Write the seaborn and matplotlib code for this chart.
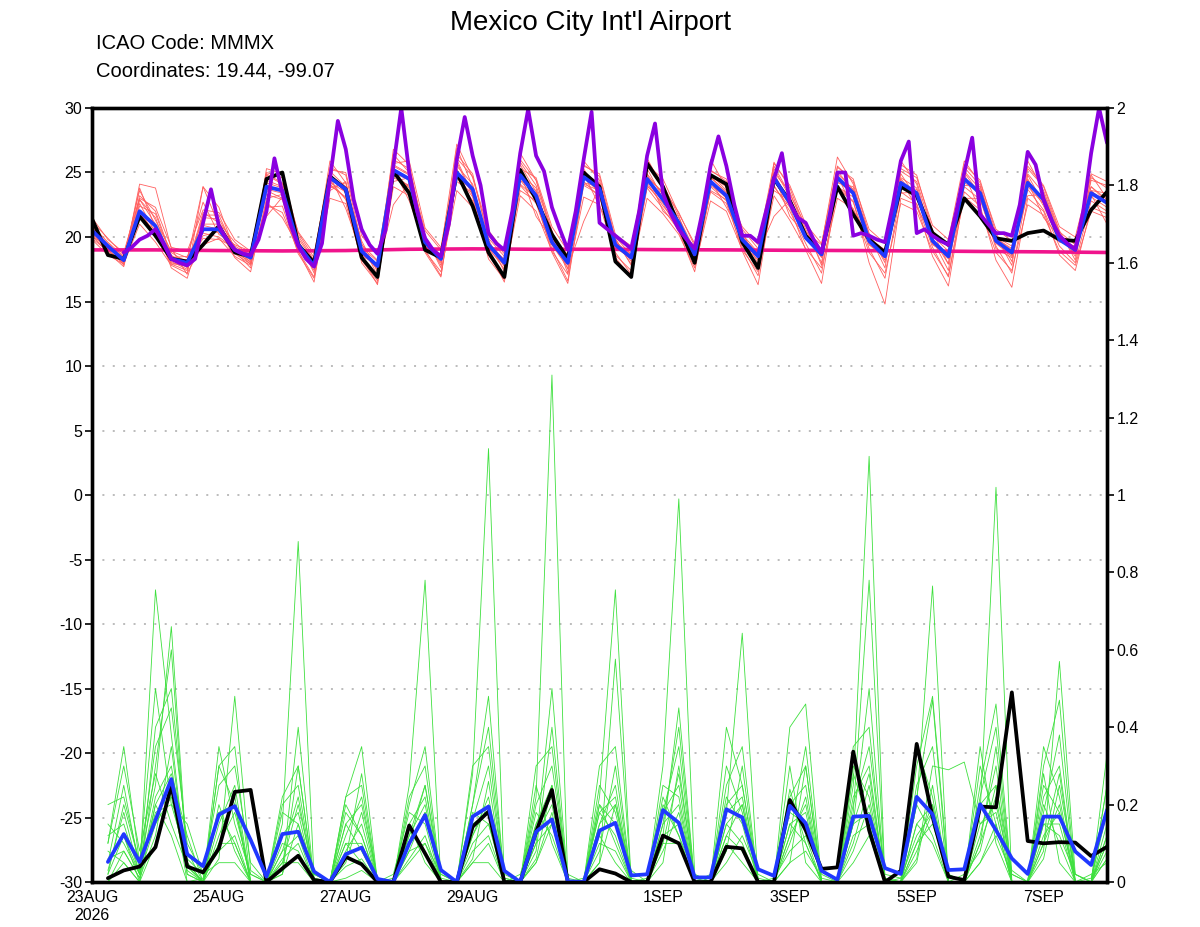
import numpy as np
import pandas as pd
import matplotlib
matplotlib.use('Agg')
import matplotlib.pyplot as plt
import matplotlib.dates as mdates
import seaborn as sns

sns.set_theme(style='white')
plt.rcParams['font.family'] = ['Liberation Sans', 'DejaVu Sans']
plt.rcParams['text.color'] = 'black'

# 6-hourly forecast steps, 23AUG 00z .. 8SEP 00z
times = pd.date_range('2026-08-23 00:00', periods=65, freq='6h')
times_3h = pd.date_range('2026-08-23 12:00', periods=125, freq='3h')
days = pd.date_range('2026-08-23', periods=17, freq='D')

tick_dates = ['2026-08-23', '2026-08-25', '2026-08-27', '2026-08-29',
              '2026-09-01', '2026-09-03', '2026-09-05', '2026-09-07']
tick_labels = ['23AUG\n2026', '25AUG', '27AUG', '29AUG', '1SEP', '3SEP', '5SEP', '7SEP']

# temperature (left axis, C)
temp_ctrl = [21.4, 18.6, 18.3, 21.6, 20.1, 18.3, 18.1, 19.4, 20.85, 18.8, 18.5, 24.5, 25.0,
             19.4, 18.0, 24.7, 23.7, 18.4, 16.9, 25.1, 23.4, 19.0, 18.4, 25.0, 22.4, 18.8,
             16.9, 25.2, 22.9, 20.2, 18.3, 25.0, 23.9, 18.1, 16.9, 25.7, 23.9, 20.85, 18.0,
             24.8, 24.1, 19.6, 17.6, 24.5, 22.8, 20.1, 18.8, 23.9, 21.75, 19.8, 18.8, 23.9,
             23.2, 20.3, 19.4, 23.0, 21.6, 19.9, 19.7, 20.3, 20.5, 19.8, 19.7, 22.1, 23.5]
temp_mean = [20.5, 19.3, 18.2, 22.0, 20.85, 18.3, 18.0, 20.6, 20.6, 19.0, 18.4, 23.9, 23.6,
             19.4, 17.75, 24.6, 23.7, 18.9, 17.75, 25.2, 24.5, 19.6, 18.3, 25.0, 23.7, 19.4,
             18.0, 24.8, 23.2, 19.6, 18.0, 24.65, 23.75, 19.4, 18.4, 24.5, 22.9, 21.1, 18.65,
             24.3, 23.2, 19.8, 18.5, 24.6, 22.65, 19.95, 18.65, 24.6, 23.4, 19.7, 18.5, 24.2,
             23.4, 19.7, 18.5, 24.5, 23.4, 19.7, 18.8, 24.2, 22.9, 19.8, 19.0, 23.4, 22.65]
temp_det = [18.8, 19.2, 19.8, 20.1, 20.6, 19.5, 18.3, 18.0, 17.8, 18.3, 21.1, 23.7, 20.85,
            19.8, 19.0, 18.7, 18.6, 19.8, 22.0, 26.1, 23.4, 21.0, 19.3, 18.3, 17.7, 19.5,
            24.5, 29.0, 26.8, 22.9, 20.6, 19.4, 18.7, 20.5, 25.5, 30.0, 25.0, 22.0, 19.9,
            19.0, 18.5, 21.0, 26.0, 29.3, 26.3, 24.0, 20.3, 19.5, 19.0, 22.0, 26.5, 29.9,
            26.3, 25.1, 22.3, 20.6, 19.0, 22.0, 26.0, 29.7, 21.1, 20.6, 20.1, 19.6, 19.1,
            22.0, 26.3, 28.8, 23.4, 21.8, 20.6, 19.8, 19.1, 22.0, 25.5, 27.8, 25.5, 22.5,
            20.1, 20.1, 19.6, 22.0, 24.5, 26.5, 22.65, 21.5, 21.1, 19.8, 18.8, 21.5, 25.0,
            25.0, 20.1, 20.3, 20.1, 19.8, 19.6, 22.5, 25.9, 27.4, 20.3, 20.6, 20.1, 19.7,
            19.4, 22.0, 25.0, 27.7, 21.75, 21.0, 20.3, 20.3, 20.1, 22.5, 26.6, 25.6, 22.9,
            21.3, 20.1, 19.5, 19.05, 22.0, 26.5, 30.0, 27.3]
temp_clim = [19.0, 19.0, 18.95, 18.92, 18.95, 19.05, 19.08, 19.05, 19.05, 19.02, 19.0,
             18.97, 18.95, 18.92, 18.88, 18.85, 18.8]

temp_members = [
    [20.2, 19.0, 18.0, 23.2, 22.0, 18.6, 17.6, 21.5, 21.4, 19.2, 18.0, 25.0, 24.6, 19.8, 17.2, 25.4, 24.8, 19.5, 17.0, 26.0, 25.3, 20.1, 17.6, 26.4, 24.9, 19.8, 17.3, 25.8, 24.0, 20.3, 17.5, 25.6, 24.7, 19.9, 17.8, 25.9, 24.1, 21.6, 18.2, 25.2, 24.3, 20.4, 17.9, 25.8, 23.8, 20.6, 18.0, 25.4, 24.5, 20.2, 17.6, 25.1, 24.3, 20.4, 17.9, 25.6, 24.4, 20.3, 18.1, 25.3, 23.9, 20.5, 18.2, 24.6, 23.8],
    [19.8, 18.6, 17.9, 21.0, 19.6, 17.8, 17.2, 19.4, 19.9, 18.5, 17.8, 22.3, 22.4, 18.7, 16.8, 23.0, 22.6, 18.2, 16.6, 23.9, 23.2, 18.9, 17.3, 23.6, 22.3, 18.6, 16.9, 23.2, 22.0, 18.9, 17.1, 23.1, 22.5, 18.6, 17.4, 23.0, 21.8, 20.2, 17.6, 22.8, 22.0, 19.0, 17.3, 23.2, 21.3, 19.1, 17.6, 23.0, 22.2, 18.8, 17.2, 22.6, 22.0, 18.9, 17.0, 23.1, 22.1, 18.8, 17.4, 22.5, 21.7, 18.9, 17.8, 22.0, 21.5],
    [20.9, 19.6, 18.5, 23.6, 21.3, 18.9, 18.4, 22.7, 20.2, 19.4, 18.9, 24.8, 24.1, 20.1, 18.2, 25.9, 24.2, 19.2, 18.1, 26.4, 25.0, 20.5, 19.0, 27.2, 24.6, 20.1, 18.7, 26.0, 24.4, 20.2, 18.6, 25.3, 23.2, 19.0, 18.9, 26.1, 23.8, 21.9, 19.3, 25.1, 24.5, 20.6, 19.1, 25.0, 23.5, 20.4, 19.4, 26.2, 24.1, 19.9, 19.0, 25.6, 24.8, 20.5, 19.2, 24.0, 23.9, 20.0, 19.3, 25.9, 23.6, 20.4, 19.4, 24.8, 23.0],
    [20.0, 19.4, 17.8, 22.6, 20.3, 17.9, 17.4, 21.0, 21.0, 18.7, 17.9, 22.5, 21.9, 18.9, 16.9, 24.1, 23.0, 18.4, 16.3, 24.8, 23.8, 19.0, 17.0, 24.6, 22.8, 18.9, 16.5, 24.0, 22.6, 19.1, 16.6, 24.3, 23.1, 18.8, 17.1, 23.8, 22.2, 20.5, 17.8, 23.5, 22.6, 19.2, 17.0, 24.0, 22.0, 19.5, 17.2, 23.8, 22.7, 19.1, 16.8, 23.5, 22.6, 19.2, 16.9, 23.9, 22.9, 19.3, 17.2, 23.7, 22.1, 19.3, 18.0, 22.8, 22.0],
    [20.6, 19.1, 18.3, 22.4, 21.8, 18.5, 18.2, 23.9, 20.9, 19.3, 18.6, 21.6, 23.1, 19.6, 17.9, 24.2, 23.5, 18.8, 17.5, 22.5, 24.2, 19.3, 18.1, 25.8, 23.2, 19.0, 17.8, 23.6, 22.8, 19.4, 17.6, 21.2, 23.9, 19.6, 18.7, 24.9, 23.3, 21.5, 19.0, 24.7, 23.9, 20.2, 18.8, 21.6, 22.9, 20.1, 18.4, 25.1, 23.6, 20.0, 18.2, 24.6, 23.8, 19.6, 18.3, 23.0, 23.0, 19.5, 18.5, 24.8, 22.6, 19.9, 18.9, 23.9, 22.7],
    [21.2, 19.9, 18.6, 22.9, 21.0, 18.2, 17.8, 20.1, 20.4, 18.8, 18.1, 24.4, 23.9, 19.5, 17.4, 24.9, 23.4, 18.9, 17.6, 25.6, 24.9, 19.8, 18.5, 25.5, 24.1, 19.3, 18.3, 25.6, 23.5, 19.9, 18.4, 24.9, 24.2, 19.8, 18.1, 24.2, 22.4, 21.0, 18.9, 24.9, 23.6, 19.5, 18.2, 25.3, 23.1, 20.3, 18.9, 24.2, 23.9, 19.4, 18.7, 24.9, 23.0, 19.9, 17.9, 25.1, 23.7, 19.9, 19.0, 23.2, 23.3, 20.1, 19.5, 23.9, 22.9],
    [20.3, 19.2, 18.1, 21.4, 20.6, 18.0, 17.7, 21.9, 21.1, 19.6, 18.4, 23.3, 22.9, 19.0, 17.8, 23.8, 24.2, 19.4, 18.2, 24.9, 23.9, 19.2, 18.6, 24.3, 23.4, 19.7, 17.7, 24.4, 23.6, 19.7, 17.9, 24.1, 23.6, 19.1, 18.5, 23.9, 23.1, 20.8, 18.4, 23.9, 22.8, 19.6, 18.6, 24.4, 22.4, 20.0, 18.6, 23.9, 23.1, 19.4, 18.4, 23.8, 23.7, 19.4, 18.6, 24.7, 23.1, 19.1, 18.4, 24.5, 22.4, 19.6, 19.3, 23.1, 22.3],
    [19.9, 18.9, 18.0, 24.1, 23.8, 19.1, 17.1, 23.9, 22.3, 18.9, 17.6, 25.3, 24.9, 20.3, 18.4, 25.1, 23.9, 19.7, 17.3, 26.8, 25.6, 20.0, 17.8, 26.9, 23.9, 19.2, 17.5, 26.5, 24.4, 20.5, 17.2, 25.9, 24.4, 19.7, 17.9, 24.6, 23.5, 21.3, 18.0, 26.0, 23.8, 20.1, 18.3, 25.5, 23.3, 20.9, 17.8, 24.9, 23.7, 20.3, 18.0, 25.9, 24.1, 19.8, 17.4, 25.4, 24.0, 20.1, 17.8, 24.9, 23.4, 20.3, 18.5, 24.4, 24.0],
    [20.7, 19.5, 18.4, 22.1, 20.1, 18.4, 18.5, 20.3, 20.0, 19.1, 18.8, 23.7, 23.4, 19.2, 17.6, 24.5, 23.6, 18.6, 17.9, 25.0, 24.4, 19.5, 18.0, 25.1, 23.8, 19.5, 18.1, 24.1, 23.0, 19.4, 17.8, 24.7, 23.4, 19.2, 18.3, 24.4, 22.7, 21.2, 18.6, 24.2, 23.0, 19.7, 18.4, 24.9, 22.6, 19.8, 18.8, 24.5, 23.3, 19.6, 18.6, 24.0, 23.2, 19.6, 18.7, 24.4, 23.6, 19.6, 18.9, 24.4, 22.8, 19.7, 19.1, 23.5, 22.8],
    [20.4, 19.0, 17.9, 21.7, 20.9, 17.6, 16.8, 20.9, 20.6, 18.4, 17.3, 23.0, 23.3, 18.9, 16.5, 24.0, 23.1, 18.0, 16.4, 24.6, 24.0, 18.8, 16.9, 24.8, 23.1, 18.3, 16.7, 24.4, 22.9, 18.8, 16.4, 24.0, 23.3, 18.4, 16.9, 24.0, 22.6, 20.4, 17.3, 23.6, 22.9, 18.9, 16.3, 23.9, 22.3, 19.0, 16.4, 23.9, 22.8, 18.0, 14.8, 23.0, 22.5, 18.5, 16.2, 23.5, 22.4, 18.2, 16.1, 23.0, 22.0, 18.6, 17.4, 22.3, 21.8],
    [21.5, 19.8, 18.8, 23.0, 22.3, 19.2, 18.9, 22.1, 21.9, 19.8, 18.9, 24.9, 24.2, 20.4, 18.7, 25.2, 25.0, 20.1, 18.6, 25.7, 25.9, 20.7, 19.2, 26.1, 24.7, 20.5, 18.9, 25.3, 24.6, 20.8, 18.9, 25.5, 24.9, 20.2, 19.3, 25.6, 24.5, 21.8, 19.5, 24.6, 23.5, 20.8, 19.4, 25.7, 24.0, 21.0, 19.5, 25.5, 24.3, 20.6, 19.5, 25.3, 24.6, 20.9, 19.8, 25.9, 24.2, 20.6, 19.7, 25.5, 24.0, 20.8, 20.0, 24.9, 24.3],
    [20.1, 18.8, 17.7, 22.9, 21.5, 18.1, 17.5, 21.7, 21.7, 19.0, 17.9, 22.7, 21.5, 19.3, 18.0, 24.7, 22.2, 18.7, 17.7, 25.3, 22.8, 19.4, 18.2, 25.3, 22.5, 19.9, 18.5, 25.0, 21.6, 19.8, 18.3, 24.9, 22.4, 20.0, 18.6, 24.9, 22.0, 20.9, 18.7, 24.4, 22.3, 20.0, 18.7, 24.8, 21.6, 20.2, 18.9, 24.8, 22.1, 20.0, 18.9, 24.4, 22.3, 20.1, 18.9, 24.9, 22.0, 19.9, 19.1, 24.3, 21.5, 20.0, 19.2, 23.3, 21.0],
    [20.8, 19.3, 18.2, 21.9, 20.2, 17.9, 17.9, 19.9, 19.8, 19.2, 18.3, 24.2, 23.8, 19.9, 18.1, 24.4, 22.9, 18.5, 17.9, 25.5, 24.8, 19.7, 18.3, 24.7, 23.6, 19.6, 18.2, 24.7, 23.3, 19.5, 18.0, 25.1, 23.6, 19.5, 18.6, 25.3, 23.0, 20.6, 18.8, 24.7, 23.4, 19.9, 18.7, 23.6, 22.8, 20.2, 18.7, 24.7, 23.5, 19.8, 18.6, 23.4, 23.5, 19.8, 18.6, 25.0, 23.3, 19.8, 18.7, 23.9, 22.6, 19.9, 18.8, 23.6, 22.5],
    [20.5, 19.2, 18.1, 23.8, 20.7, 18.8, 18.0, 19.3, 20.8, 19.0, 18.2, 23.6, 23.0, 19.6, 17.7, 23.6, 24.3, 19.0, 17.8, 24.3, 24.6, 19.4, 18.5, 26.0, 23.3, 19.3, 17.9, 24.9, 23.8, 19.6, 18.2, 24.2, 23.9, 19.3, 18.4, 24.7, 23.4, 21.0, 18.5, 24.0, 23.1, 19.8, 18.6, 24.9, 22.7, 19.9, 18.5, 24.3, 23.4, 19.9, 18.4, 24.5, 23.1, 19.5, 18.4, 24.2, 23.5, 19.6, 18.6, 24.0, 23.1, 19.8, 19.0, 23.6, 23.4],
]

# precipitation (right axis), from the first 6 h step
precip_ctrl = [0.01, 0.03, 0.04, 0.09, 0.25, 0.04, 0.025, 0.087, 0.233, 0.238, 0.0, 0.035,
               0.068, 0.005, 0.0, 0.065, 0.046, 0.0, 0.0, 0.146, 0.074, 0.0, 0.0, 0.143,
               0.182, 0.0, 0.0, 0.13, 0.238, 0.0, 0.0, 0.033, 0.022, 0.0, 0.0, 0.12, 0.1,
               0.0, 0.0, 0.091, 0.087, 0.0, 0.0, 0.212, 0.134, 0.034, 0.038, 0.337, 0.134,
               0.0, 0.029, 0.357, 0.169, 0.014, 0.005, 0.195, 0.193, 0.49, 0.106, 0.1,
               0.103, 0.102, 0.067, 0.091]
precip_mean = [0.052, 0.124, 0.052, 0.16, 0.266, 0.072, 0.041, 0.174, 0.196, 0.109, 0.014,
               0.124, 0.13, 0.027, 0.0, 0.072, 0.089, 0.008, 0.0, 0.1, 0.173, 0.031, 0.0,
               0.169, 0.195, 0.029, 0.0, 0.13, 0.162, 0.002, 0.0, 0.133, 0.153, 0.017, 0.02,
               0.186, 0.153, 0.012, 0.012, 0.188, 0.167, 0.033, 0.016, 0.197, 0.152, 0.029,
               0.006, 0.169, 0.171, 0.036, 0.021, 0.22, 0.175, 0.031, 0.033, 0.201, 0.134,
               0.061, 0.021, 0.169, 0.169, 0.079, 0.044, 0.186]

precip_members = [
    [0.05, 0.12, 0.02, 0.15, 0.22, 0.03, 0.0, 0.1, 0.18, 0.02, 0.0, 0.08, 0.12, 0.0, 0.0, 0.04, 0.06, 0.0, 0.01, 0.1, 0.25, 0.02, 0.0, 0.16, 0.3, 0.01, 0.0, 0.22, 1.31, 0.0, 0.0, 0.05, 0.2, 0.03, 0.0, 0.12, 0.15, 0.0, 0.02, 0.18, 0.22, 0.0, 0.0, 0.05, 0.08, 0.01, 0.0, 0.2, 0.35, 0.02, 0.01, 0.12, 0.18, 0.0, 0.02, 0.08, 0.25, 0.03, 0.0, 0.15, 0.12, 0.02, 0.0, 0.1],
    [0.02, 0.2, 0.05, 0.35, 0.45, 0.1, 0.02, 0.25, 0.3, 0.05, 0.0, 0.02, 0.15, 0.01, 0.0, 0.12, 0.22, 0.0, 0.0, 0.08, 0.18, 0.01, 0.0, 0.28, 1.12, 0.0, 0.0, 0.06, 0.25, 0.0, 0.01, 0.18, 0.12, 0.0, 0.0, 0.1, 0.28, 0.01, 0.0, 0.05, 0.12, 0.02, 0.0, 0.24, 0.1, 0.0, 0.0, 0.3, 0.22, 0.01, 0.0, 0.06, 0.3, 0.29, 0.31, 0.15, 0.2, 0.02, 0.0, 0.28, 0.05, 0.0, 0.01, 0.18],
    [0.08, 0.05, 0.0, 0.2, 0.12, 0.0, 0.01, 0.18, 0.1, 0.0, 0.0, 0.05, 0.2, 0.02, 0.0, 0.01, 0.03, 0.0, 0.0, 0.22, 0.3, 0.0, 0.0, 0.1, 0.15, 0.02, 0.0, 0.08, 0.4, 0.0, 0.0, 0.25, 0.18, 0.01, 0.0, 0.15, 0.4, 0.0, 0.0, 0.1, 0.05, 0.0, 0.0, 0.12, 0.2, 0.0, 0.0, 0.25, 1.1, 0.0, 0.01, 0.2, 0.12, 0.0, 0.0, 0.05, 0.15, 0.0, 0.0, 0.06, 0.25, 0.02, 0.0, 0.12],
    [0.1, 0.3, 0.08, 0.28, 0.15, 0.04, 0.0, 0.3, 0.2, 0.0, 0.0, 0.1, 0.08, 0.0, 0.0, 0.2, 0.12, 0.0, 0.0, 0.05, 0.1, 0.02, 0.0, 0.12, 0.2, 0.0, 0.02, 0.15, 0.22, 0.01, 0.0, 0.08, 0.3, 0.0, 0.0, 0.2, 0.12, 0.02, 0.0, 0.25, 0.35, 0.0, 0.0, 0.18, 0.15, 0.02, 0.0, 0.1, 0.25, 0.01, 0.0, 0.15, 0.2, 0.0, 0.0, 0.18, 1.02, 0.0, 0.0, 0.12, 0.18, 0.0, 0.02, 0.05],
    [0.0, 0.08, 0.01, 0.12, 0.35, 0.02, 0.0, 0.06, 0.48, 0.03, 0.0, 0.02, 0.3, 0.0, 0.0, 0.05, 0.18, 0.0, 0.0, 0.15, 0.22, 0.0, 0.0, 0.06, 0.26, 0.0, 0.0, 0.1, 0.15, 0.0, 0.0, 0.18, 0.22, 0.0, 0.0, 0.3, 0.99, 0.02, 0.0, 0.12, 0.2, 0.0, 0.01, 0.08, 0.12, 0.0, 0.0, 0.15, 0.18, 0.0, 0.0, 0.3, 0.48, 0.02, 0.0, 0.1, 0.22, 0.0, 0.0, 0.2, 0.1, 0.0, 0.0, 0.25],
    [0.12, 0.15, 0.02, 0.22, 0.3, 0.05, 0.0, 0.12, 0.22, 0.0, 0.0, 0.15, 0.88, 0.01, 0.0, 0.1, 0.05, 0.0, 0.02, 0.18, 0.15, 0.0, 0.0, 0.2, 0.4, 0.01, 0.0, 0.05, 0.18, 0.0, 0.0, 0.1, 0.08, 0.0, 0.0, 0.15, 0.2, 0.0, 0.0, 0.4, 0.25, 0.01, 0.0, 0.1, 0.22, 0.0, 0.0, 0.12, 0.15, 0.0, 0.0, 0.35, 0.22, 0.0, 0.0, 0.12, 0.3, 0.0, 0.0, 0.08, 0.57, 0.02, 0.0, 0.15],
    [0.05, 0.25, 0.03, 0.18, 0.2, 0.06, 0.02, 0.08, 0.12, 0.0, 0.0, 0.2, 0.25, 0.0, 0.0, 0.08, 0.15, 0.0, 0.0, 0.25, 0.78, 0.0, 0.0, 0.05, 0.1, 0.0, 0.0, 0.2, 0.3, 0.02, 0.0, 0.15, 0.25, 0.0, 0.0, 0.08, 0.18, 0.0, 0.0, 0.22, 0.15, 0.0, 0.0, 0.3, 0.05, 0.0, 0.0, 0.18, 0.78, 0.0, 0.0, 0.1, 0.15, 0.02, 0.0, 0.22, 0.4, 0.0, 0.0, 0.1, 0.2, 0.0, 0.0, 0.06],
    [0.15, 0.1, 0.02, 0.755, 0.38, 0.02, 0.0, 0.2, 0.08, 0.0, 0.0, 0.12, 0.18, 0.0, 0.0, 0.15, 0.2, 0.01, 0.0, 0.06, 0.12, 0.0, 0.0, 0.15, 0.18, 0.0, 0.0, 0.12, 0.2, 0.0, 0.0, 0.2, 0.15, 0.0, 0.01, 0.18, 0.25, 0.0, 0.0, 0.08, 0.3, 0.0, 0.0, 0.15, 0.1, 0.0, 0.0, 0.22, 0.3, 0.0, 0.0, 0.2, 0.765, 0.0, 0.0, 0.05, 0.12, 0.02, 0.0, 0.22, 0.3, 0.0, 0.0, 0.2],
    [0.0, 0.05, 0.0, 0.1, 0.25, 0.0, 0.0, 0.35, 0.15, 0.02, 0.0, 0.06, 0.1, 0.0, 0.0, 0.22, 0.35, 0.0, 0.0, 0.12, 0.2, 0.0, 0.0, 0.08, 0.12, 0.0, 0.0, 0.25, 0.1, 0.0, 0.0, 0.22, 0.755, 0.0, 0.0, 0.05, 0.3, 0.0, 0.0, 0.15, 0.1, 0.0, 0.0, 0.2, 0.25, 0.0, 0.0, 0.05, 0.12, 0.0, 0.0, 0.25, 0.35, 0.0, 0.0, 0.3, 0.15, 0.0, 0.0, 0.18, 0.38, 0.0, 0.0, 0.1],
    [0.2, 0.22, 0.05, 0.25, 0.66, 0.05, 0.0, 0.15, 0.25, 0.0, 0.0, 0.18, 0.15, 0.02, 0.0, 0.06, 0.28, 0.0, 0.0, 0.2, 0.35, 0.0, 0.0, 0.12, 0.22, 0.0, 0.0, 0.05, 0.15, 0.0, 0.0, 0.12, 0.05, 0.0, 0.0, 0.22, 0.12, 0.0, 0.0, 0.18, 0.643, 0.0, 0.0, 0.15, 0.18, 0.0, 0.0, 0.08, 0.2, 0.0, 0.0, 0.15, 0.1, 0.0, 0.0, 0.25, 0.46, 0.0, 0.0, 0.15, 0.15, 0.0, 0.0, 0.33],
    [0.02, 0.12, 0.0, 0.4, 0.5, 0.08, 0.0, 0.1, 0.1, 0.0, 0.0, 0.08, 0.22, 0.0, 0.0, 0.1, 0.1, 0.0, 0.0, 0.12, 0.25, 0.0, 0.0, 0.2, 0.48, 0.0, 0.0, 0.15, 0.25, 0.0, 0.0, 0.05, 0.576, 0.0, 0.0, 0.12, 0.45, 0.0, 0.0, 0.3, 0.18, 0.0, 0.0, 0.22, 0.3, 0.0, 0.0, 0.15, 0.5, 0.0, 0.0, 0.08, 0.18, 0.0, 0.0, 0.2, 0.25, 0.0, 0.0, 0.3, 0.47, 0.0, 0.0, 0.12],
    [0.06, 0.08, 0.01, 0.3, 0.6, 0.04, 0.0, 0.18, 0.2, 0.0, 0.0, 0.22, 0.3, 0.0, 0.0, 0.15, 0.08, 0.0, 0.0, 0.1, 0.18, 0.0, 0.0, 0.3, 0.35, 0.0, 0.0, 0.1, 0.5, 0.0, 0.0, 0.15, 0.2, 0.0, 0.0, 0.25, 0.22, 0.0, 0.0, 0.12, 0.08, 0.0, 0.0, 0.4, 0.46, 0.0, 0.0, 0.15, 0.28, 0.0, 0.0, 0.22, 0.47, 0.0, 0.0, 0.15, 0.18, 0.0, 0.0, 0.35, 0.22, 0.0, 0.0, 0.25],
    [0.03, 0.18, 0.02, 0.2, 0.28, 0.12, 0.0, 0.3, 0.35, 0.0, 0.0, 0.05, 0.05, 0.0, 0.0, 0.18, 0.12, 0.0, 0.0, 0.08, 0.1, 0.0, 0.0, 0.05, 0.05, 0.0, 0.0, 0.3, 0.35, 0.0, 0.0, 0.2, 0.1, 0.0, 0.0, 0.18, 0.35, 0.0, 0.0, 0.2, 0.25, 0.0, 0.0, 0.05, 0.3, 0.0, 0.0, 0.35, 0.4, 0.0, 0.0, 0.05, 0.25, 0.0, 0.0, 0.1, 0.35, 0.0, 0.0, 0.1, 0.28, 0.0, 0.0, 0.08],
    [0.1, 0.35, 0.05, 0.5, 0.2, 0.15, 0.02, 0.05, 0.05, 0.0, 0.0, 0.03, 0.4, 0.0, 0.0, 0.22, 0.25, 0.0, 0.0, 0.15, 0.05, 0.0, 0.0, 0.18, 0.15, 0.0, 0.0, 0.18, 0.12, 0.0, 0.0, 0.3, 0.35, 0.0, 0.0, 0.1, 0.1, 0.0, 0.0, 0.15, 0.2, 0.0, 0.0, 0.12, 0.35, 0.0, 0.0, 0.28, 0.15, 0.0, 0.0, 0.1, 0.2, 0.0, 0.0, 0.35, 0.1, 0.0, 0.0, 0.25, 0.18, 0.0, 0.0, 0.06],
]

RED = '#ff5f5f'
GREEN = '#3ee03e'
BLUE = '#2038ff'
PURPLE = '#8a00e0'
MAGENTA = '#f0148c'


def long_frame(members, t, name):
    rows = []
    for m, vals in enumerate(members):
        for ti, v in zip(t, vals):
            rows.append((ti, m, v))
    return pd.DataFrame(rows, columns=['time', 'member', name])


temp_df = long_frame(temp_members, times, 'temp')
precip_df = long_frame(precip_members, times[1:], 'precip')

fig = plt.figure(figsize=(12, 9.27), dpi=100)
ax = fig.add_axes([0.0767, 0.0485, 0.8458, 0.8350])
ax2 = ax.twinx()

ax.grid(axis='y', color='#aaaaaa', linestyle=(0, (1.3, 5.5)), linewidth=1.1)
ax.grid(axis='x', visible=False)

# temperature
sns.lineplot(data=temp_df, x='time', y='temp', units='member', estimator=None,
             color=RED, linewidth=0.6, ax=ax)
sns.lineplot(x=days, y=temp_clim, color=MAGENTA, linewidth=2.6, ax=ax)
sns.lineplot(x=times, y=temp_ctrl, color='black', linewidth=2.7, ax=ax)
sns.lineplot(x=times, y=temp_mean, color=BLUE, linewidth=2.7, ax=ax)
sns.lineplot(x=times_3h, y=temp_det, color=PURPLE, linewidth=2.7, ax=ax)

# precipitation
sns.lineplot(data=precip_df, x='time', y='precip', units='member', estimator=None,
             color=GREEN, linewidth=0.6, ax=ax2)
sns.lineplot(x=times[1:], y=precip_ctrl, color='black', linewidth=2.7, ax=ax2)
sns.lineplot(x=times[1:], y=precip_mean, color=BLUE, linewidth=2.7, ax=ax2)

ax.set_xlim(times[0], times[-1])
ax.set_ylim(-30, 30)
ax2.set_ylim(0, 2)
ax.set_yticks(np.arange(-30, 31, 5))
ax.set_yticklabels([str(v) for v in range(-30, 31, 5)])
ax2.set_yticks(np.arange(0, 2.01, 0.2))
ax2.set_yticklabels(['0', '0.2', '0.4', '0.6', '0.8', '1', '1.2', '1.4', '1.6', '1.8', '2'])
ax.set_xticks(mdates.date2num(pd.to_datetime(tick_dates)))
ax.set_xticklabels(tick_labels)

for a in (ax, ax2):
    a.set_xlabel('')
    a.set_ylabel('')
    a.tick_params(axis='both', direction='out', length=5, width=1.2,
                  labelsize=11.5, colors='black', pad=2)
    for s in a.spines.values():
        s.set_visible(True)
        s.set_color('black')
        s.set_linewidth(2.4)
ax.tick_params(axis='x', length=5, pad=1)

fig.text(0.492, 0.968, "Mexico City Int'l Airport", ha='center', va='baseline',
         fontsize=20, color='black')
fig.text(0.080, 0.947, 'ICAO Code: MMMX', ha='left', va='baseline', fontsize=14.5, color='black')
fig.text(0.080, 0.918, 'Coordinates: 19.44, -99.07', ha='left', va='baseline',
         fontsize=14.5, color='black')

fig.savefig('out.png', dpi=100)
